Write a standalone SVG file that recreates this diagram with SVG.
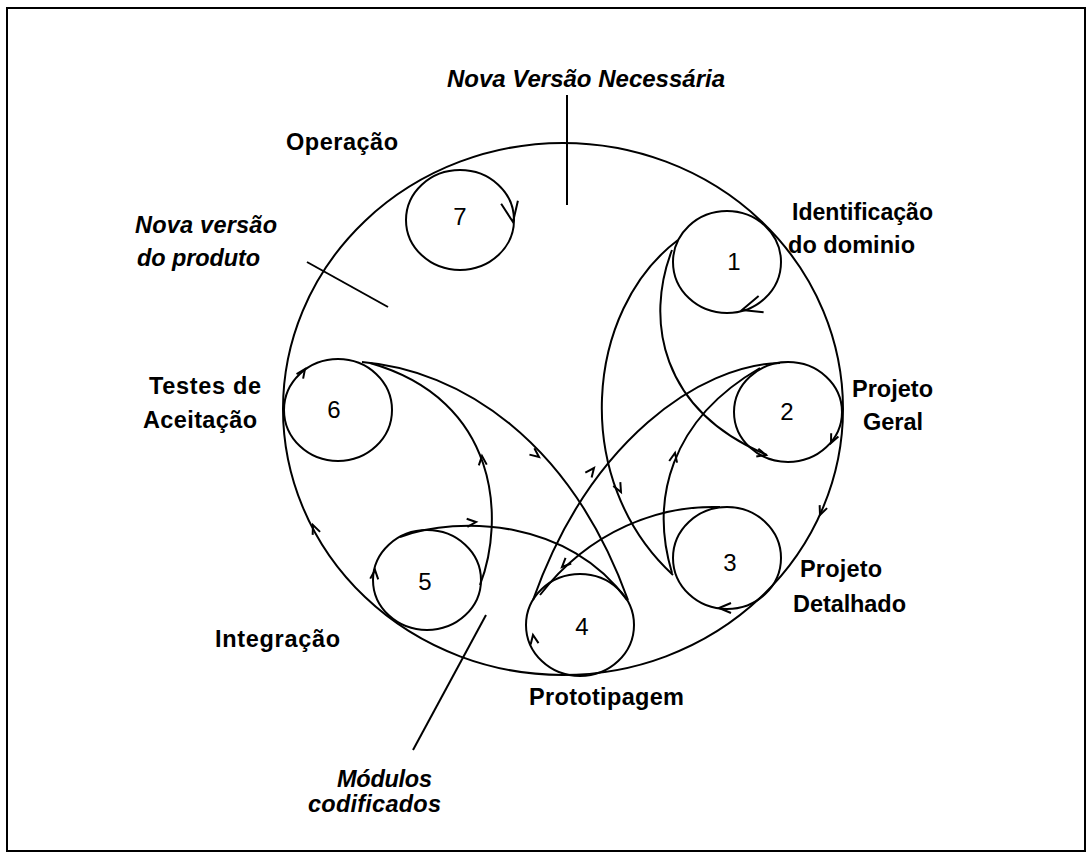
<svg xmlns="http://www.w3.org/2000/svg" xmlns:xlink="http://www.w3.org/1999/xlink" width="1088" height="855" viewBox="0 0 1088 855">
<style>
.ln{fill:none;stroke:#000;stroke-width:2}
.lb{font-family:"Liberation Sans",Arial,sans-serif;font-weight:bold;font-size:23.5px;fill:#000}
.it{font-style:italic}
.num{font-family:"Liberation Sans",Arial,sans-serif;font-size:24px;fill:#000;text-anchor:middle}
</style>
<defs>
<path id="ah" d="M-9,-4 L0,0 L-9,4" fill="none" stroke="#000" stroke-width="2"/>
<path id="ahM" d="M-12,-5 L0,0 L-12,5" fill="none" stroke="#000" stroke-width="2"/>
<path id="ahL" d="M-20,-8.5 L0,0 L-20,8.5" fill="none" stroke="#000" stroke-width="2"/>
</defs>
<rect x="7" y="8" width="1078" height="843" class="ln"/>
<g id="main">
<ellipse cx="563" cy="409" rx="280" ry="266" class="ln"/>
</g>
<g id="n7"><ellipse cx="460" cy="220" rx="54" ry="50" class="ln"/><text x="460" y="225" class="num">7</text></g>
<g id="n1"><ellipse cx="727" cy="262" rx="54" ry="51" class="ln"/><text x="734" y="270" class="num">1</text></g>
<g id="n2"><ellipse cx="788" cy="412" rx="54" ry="50" class="ln"/><text x="787" y="420" class="num">2</text></g>
<g id="n3"><ellipse cx="727" cy="558" rx="54" ry="51" class="ln"/><text x="730" y="571" class="num">3</text></g>
<g id="n4"><ellipse cx="580" cy="625" rx="54" ry="51" class="ln"/><text x="582" y="635" class="num">4</text></g>
<g id="n5"><ellipse cx="427" cy="580" rx="54" ry="50" class="ln"/><text x="425" y="590" class="num">5</text></g>
<g id="n6"><ellipse cx="338" cy="410" rx="54" ry="51" class="ln"/><text x="334" y="418" class="num">6</text></g>
<g id="connectors">
<path class="ln" d="M678,240 C585,310 570,480 673,575"/>
<path class="ln" d="M672,250 C645,320 660,410 767,455"/>
<path class="ln" d="M672,573 C650,500 670,420 760,368"/>
<path class="ln" d="M780,363 C700,365 590,440 533,600"/>
<path class="ln" d="M720,507 C660,505 590,530 540,595"/>
<path class="ln" d="M362,362 C460,370 570,440 628,600"/>
<path class="ln" d="M480,585 C505,520 500,400 370,363"/>
<path class="ln" d="M400,537 C460,515 570,520 627,600"/>
<line class="ln" x1="567" y1="95" x2="567" y2="205"/>
<line class="ln" x1="307" y1="262" x2="388" y2="307"/>
<line class="ln" x1="486" y1="615" x2="413" y2="750"/>
<use xlink:href="#ahL" transform="translate(513,222) rotate(80)"/>
<use xlink:href="#ahL" transform="translate(742,310) rotate(163)"/>
<use xlink:href="#ah" transform="translate(831,443) rotate(115)"/>
<use xlink:href="#ah" transform="translate(820,515) rotate(112)"/>
<use xlink:href="#ahM" transform="translate(719,608) rotate(180)"/>
<use xlink:href="#ah" transform="translate(533,635) rotate(-100)"/>
<use xlink:href="#ah" transform="translate(375,570) rotate(-85)"/>
<use xlink:href="#ah" transform="translate(313,525) rotate(-112)"/>
<use xlink:href="#ah" transform="translate(305,369) rotate(-55)"/>
<use xlink:href="#ah" transform="translate(621,492) rotate(62)"/>
<use xlink:href="#ah" transform="translate(766,455) rotate(15)"/>
<use xlink:href="#ah" transform="translate(675,453) rotate(-78)"/>
<use xlink:href="#ah" transform="translate(594,468) rotate(-52)"/>
<use xlink:href="#ah" transform="translate(562,567) rotate(135)"/>
<use xlink:href="#ah" transform="translate(539,457) rotate(38)"/>
<use xlink:href="#ah" transform="translate(482,456) rotate(-95)"/>
<use xlink:href="#ah" transform="translate(476,522) rotate(-5)"/>
</g>
<g id="labels">
<text x="447" y="87" class="lb it" textLength="278" lengthAdjust="spacingAndGlyphs">Nova Versão Necessária</text>
<text x="286" y="150" class="lb" textLength="112" lengthAdjust="spacing">Operação</text>
<text x="135" y="233" class="lb it" textLength="142" lengthAdjust="spacing">Nova versão</text>
<text x="137" y="266" class="lb it" textLength="123" lengthAdjust="spacing">do produto</text>
<text x="792" y="220" class="lb" textLength="141" lengthAdjust="spacingAndGlyphs">Identificação</text>
<text x="788" y="253" class="lb" textLength="127" lengthAdjust="spacing">do dominio</text>
<text x="852" y="397" class="lb" textLength="81" lengthAdjust="spacing">Projeto</text>
<text x="863" y="430" class="lb" textLength="60" lengthAdjust="spacing">Geral</text>
<text x="800" y="577" class="lb" textLength="82" lengthAdjust="spacing">Projeto</text>
<text x="793" y="612" class="lb" textLength="113" lengthAdjust="spacing">Detalhado</text>
<text x="149" y="394" class="lb" textLength="112" lengthAdjust="spacing">Testes de</text>
<text x="143" y="428" class="lb" textLength="114" lengthAdjust="spacing">Aceitação</text>
<text x="215" y="647" class="lb" textLength="125" lengthAdjust="spacing">Integração</text>
<text x="529" y="705" class="lb" textLength="155" lengthAdjust="spacing">Prototipagem</text>
<text x="337" y="787" class="lb it" textLength="95" lengthAdjust="spacing">Módulos</text>
<text x="308" y="812" class="lb it" textLength="133" lengthAdjust="spacing">codificados</text>
</g>
</svg>
